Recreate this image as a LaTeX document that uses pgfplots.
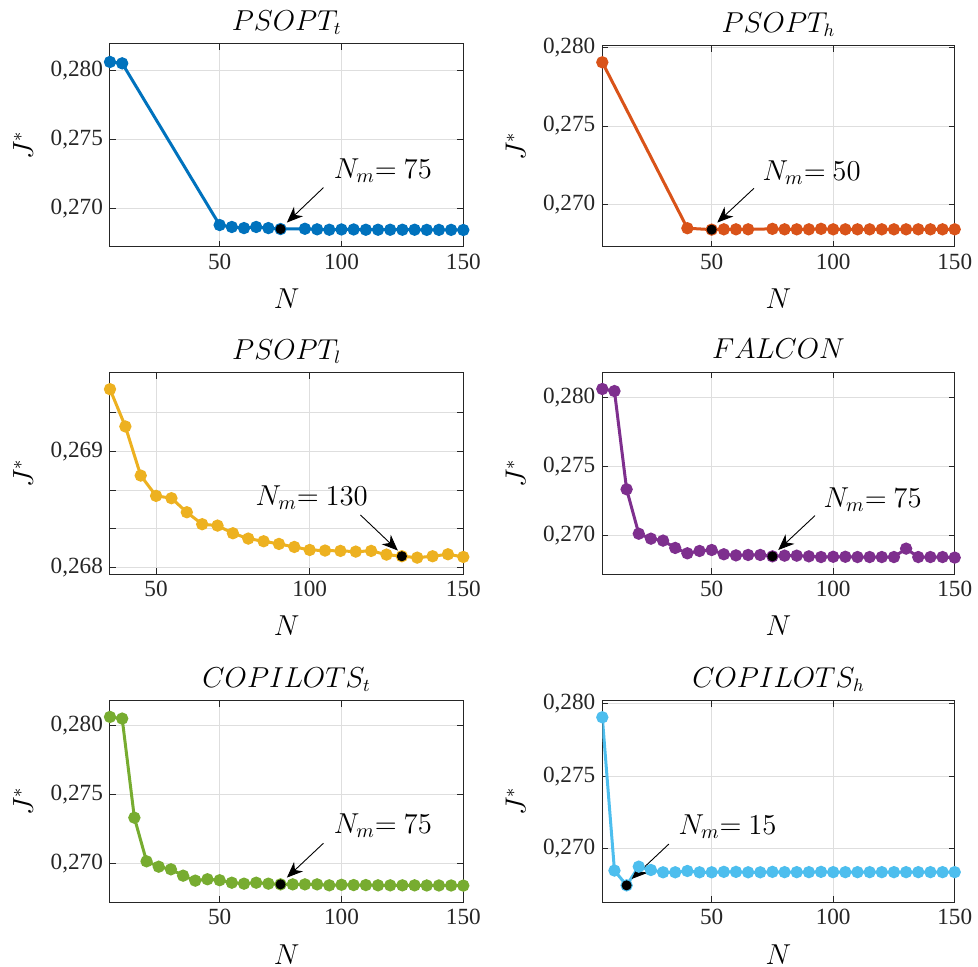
\documentclass[border=0pt]{standalone}
\usepackage{fontspec}
\setmainfont{Liberation Serif}
\usepackage{pgfplots}
\pgfplotsset{compat=1.18}
\usetikzlibrary{arrows.meta}
\definecolor{mblue}{rgb}{0,0.447,0.741}
\definecolor{morange}{rgb}{0.85,0.325,0.098}
\definecolor{myellow}{rgb}{0.929,0.694,0.125}
\definecolor{mpurple}{rgb}{0.494,0.184,0.556}
\definecolor{mgreen}{rgb}{0.466,0.674,0.188}
\definecolor{mlblue}{rgb}{0.301,0.745,0.933}
\definecolor{axgray}{rgb}{0.15,0.15,0.15}
\pgfplotsset{
 mystyle/.style={
  scale only axis, height=100.7pt,
  xmin=5, xmax=150, xtick={50,100,150},
  grid=major, major grid style={draw=black!13, line width=0.5pt},
  axis line style={axgray, line width=0.5pt},
  tick style={axgray, line width=0.5pt}, major tick length=3pt,
  tick align=inside,
  ticklabel style={font=\fontsize{11.6}{13}\selectfont, text=axgray},
  /pgf/number format/assume math mode=true,
  scaled y ticks=false,
  yticklabel style={/pgf/number format/fixed, /pgf/number format/fixed zerofill, /pgf/number format/precision=3, /pgf/number format/use comma},
  xlabel={$N$}, ylabel={$J^*$},
  every axis x label/.style={at={(axis description cs:0.5,0)}, yshift=-26pt, anchor=center, font=\fontsize{13.5}{15}\selectfont},
  every axis y label/.style={at={(axis description cs:-0.246,0.5)}, rotate=90, anchor=center, font=\fontsize{13.5}{15}\selectfont},
  every axis title/.style={at={(axis description cs:0.5,1)}, anchor=base, yshift=6.7pt, font=\fontsize{13.5}{15}\selectfont},
 },
 ser/.style={color=#1, line width=1.5pt, mark=*, mark size=2.3pt, mark options={fill=#1, draw=#1}},
 blk/.style={only marks, mark=*, mark size=2.3pt, color=black},
}
\newcommand{\annot}[7]{%
 \draw[-{Stealth[length=8pt,width=6.5pt,inset=2.5pt]}, line width=0.45pt] (axis cs:#1,#2) -- (axis cs:#3,#4);
 \node[anchor=base west, inner sep=0pt, font=\fontsize{13.6}{15}\selectfont] at (axis cs:#5,#6) {$N_m{=}\ #7$};
}
\begin{document}
\begin{tikzpicture}
\useasboundingbox (0,0) rectangle (489pt,-483.5pt);
% ---------- PSOPT_t
\begin{axis}[mystyle, at={(55pt,-123.5pt)}, anchor=south west, width=176.65pt, height=101.5pt,
 ymin=0.2672, ymax=0.2819, ytick={0.270,0.275,0.280}, title={$PSOPT_t$}]
\addplot[ser=mblue] coordinates {(5,0.28060) (10,0.28050) (50,0.26879) (55,0.26865) (60,0.26857) (65,0.26865) (70,0.26857) (75,0.26850) (85,0.26852) (90,0.26848) (95,0.26845) (100,0.26847) (105,0.26847) (110,0.26845) (115,0.26845) (120,0.26845) (125,0.26845) (130,0.26845) (135,0.26844) (140,0.26844) (145,0.26844) (150,0.26843)};
\addplot[blk] coordinates {(75,0.26850)};
\annot{92.6}{0.27150}{77.6}{0.26897}{96.7}{0.27217}{75}
\end{axis}
% ---------- PSOPT_h
\begin{axis}[mystyle, at={(301.15pt,-123.35pt)}, anchor=south west, width=176.2pt, height=100.5pt,
 ymin=0.26729, ymax=0.28013, ytick={0.270,0.275,0.280}, title={$PSOPT_h$}]
\addplot[ser=morange] coordinates {(5,0.27907) (40,0.26847) (50,0.26838) (55,0.26840) (60,0.26840) (65,0.26840) (75,0.26843) (80,0.26840) (85,0.26840) (90,0.26840) (95,0.26843) (100,0.26840) (105,0.26840) (110,0.26840) (115,0.26840) (120,0.26840) (125,0.26840) (130,0.26840) (135,0.26840) (140,0.26840) (145,0.26840) (150,0.26840)};
\addplot[blk] coordinates {(50,0.26838)};
\annot{67.4}{0.27102}{52.3}{0.26883}{70.8}{0.27155}{50}
\end{axis}
% ---------- PSOPT_l
\begin{axis}[mystyle, at={(55pt,-287pt)}, anchor=south west, width=176.65pt,
 xmin=35, ymin=0.267945, ymax=0.26968, ytick={0.268,0.268333,0.268667,0.269,0.269333},
 yticklabels={{0,268},{},{},{0,269},{}}, title={$PSOPT_l$}]
\addplot[ser=myellow] coordinates {(35,0.269537) (40,0.269216) (45,0.268793) (50,0.268618) (55,0.268598) (60,0.268477) (65,0.268374) (70,0.268362) (75,0.268296) (80,0.268250) (85,0.268227) (90,0.268204) (95,0.268178) (100,0.268152) (105,0.268147) (110,0.268144) (115,0.268138) (120,0.268144) (125,0.268112) (130,0.268098) (135,0.268086) (140,0.268098) (145,0.268115) (150,0.268092)};
\addplot[blk] coordinates {(130,0.268098)};
\annot{116.5}{0.268454}{128.7}{0.268147}{82.3}{0.268534}{130}
\end{axis}
% ---------- FALCON
\begin{axis}[mystyle, at={(301.15pt,-287pt)}, anchor=south west, width=176.2pt, height=100.85pt,
 ymin=0.26722, ymax=0.28184, ytick={0.270,0.275,0.280}, title={$FALCON$}]
\addplot[ser=mpurple] coordinates {(5,0.28063) (10,0.28048) (15,0.27336) (20,0.27014) (25,0.26978) (30,0.26964) (35,0.26911) (40,0.26872) (45,0.26889) (50,0.26896) (55,0.26865) (60,0.26857) (65,0.26860) (70,0.26860) (75,0.26850) (80,0.26855) (85,0.26855) (90,0.26850) (95,0.26845) (100,0.26847) (105,0.26847) (110,0.26845) (115,0.26845) (120,0.26845) (125,0.26845) (130,0.26906) (135,0.26845) (140,0.26845) (145,0.26845) (150,0.26841)};
\addplot[blk] coordinates {(75,0.26850)};
\annot{92.5}{0.27145}{77.4}{0.26896}{95.9}{0.27206}{75}
\end{axis}
% ---------- COPILOTS_t
\begin{axis}[mystyle, at={(55pt,-451.15pt)}, anchor=south west, width=176.65pt,
 ymin=0.2672, ymax=0.28179, ytick={0.270,0.275,0.280}, title={$COPILOTS_t$}]
\addplot[ser=mgreen] coordinates {(5,0.28063) (10,0.28051) (15,0.27333) (20,0.27017) (25,0.26978) (30,0.26959) (35,0.26913) (40,0.26877) (45,0.26887) (50,0.26880) (55,0.26862) (60,0.26855) (65,0.26862) (70,0.26855) (75,0.26850) (80,0.26850) (85,0.26850) (90,0.26850) (95,0.26843) (100,0.26847) (105,0.26845) (110,0.26845) (115,0.26843) (120,0.26843) (125,0.26843) (130,0.26843) (135,0.26842) (140,0.26842) (145,0.26842) (150,0.26841)};
\addplot[blk] coordinates {(75,0.26850)};
\annot{92.6}{0.27148}{77.6}{0.26899}{96.7}{0.27220}{75}
\end{axis}
% ---------- COPILOTS_h
\begin{axis}[mystyle, at={(301.15pt,-451.15pt)}, anchor=south west, width=176.2pt,
 ymin=0.26632, ymax=0.28021, ytick={0.270,0.275,0.280}, title={$COPILOTS_h$}]
\addplot[ser=mlblue] coordinates {(5,0.27908) (10,0.26851) (15,0.26749) (20,0.26878) (25,0.26855) (30,0.26839) (35,0.26839) (40,0.26848) (45,0.26839) (50,0.26839) (55,0.26842) (60,0.26842) (65,0.26839) (70,0.26839) (75,0.26842) (80,0.26840) (85,0.26840) (90,0.26840) (95,0.26842) (100,0.26840) (105,0.26840) (110,0.26840) (115,0.26840) (120,0.26840) (125,0.26840) (130,0.26840) (135,0.26840) (140,0.26840) (145,0.26840) (150,0.26840)};
\addplot[blk] coordinates {(15,0.26749)};
\annot{32.4}{0.27034}{17.1}{0.26793}{36.2}{0.27101}{15}
\end{axis}
\end{tikzpicture}
\end{document}
